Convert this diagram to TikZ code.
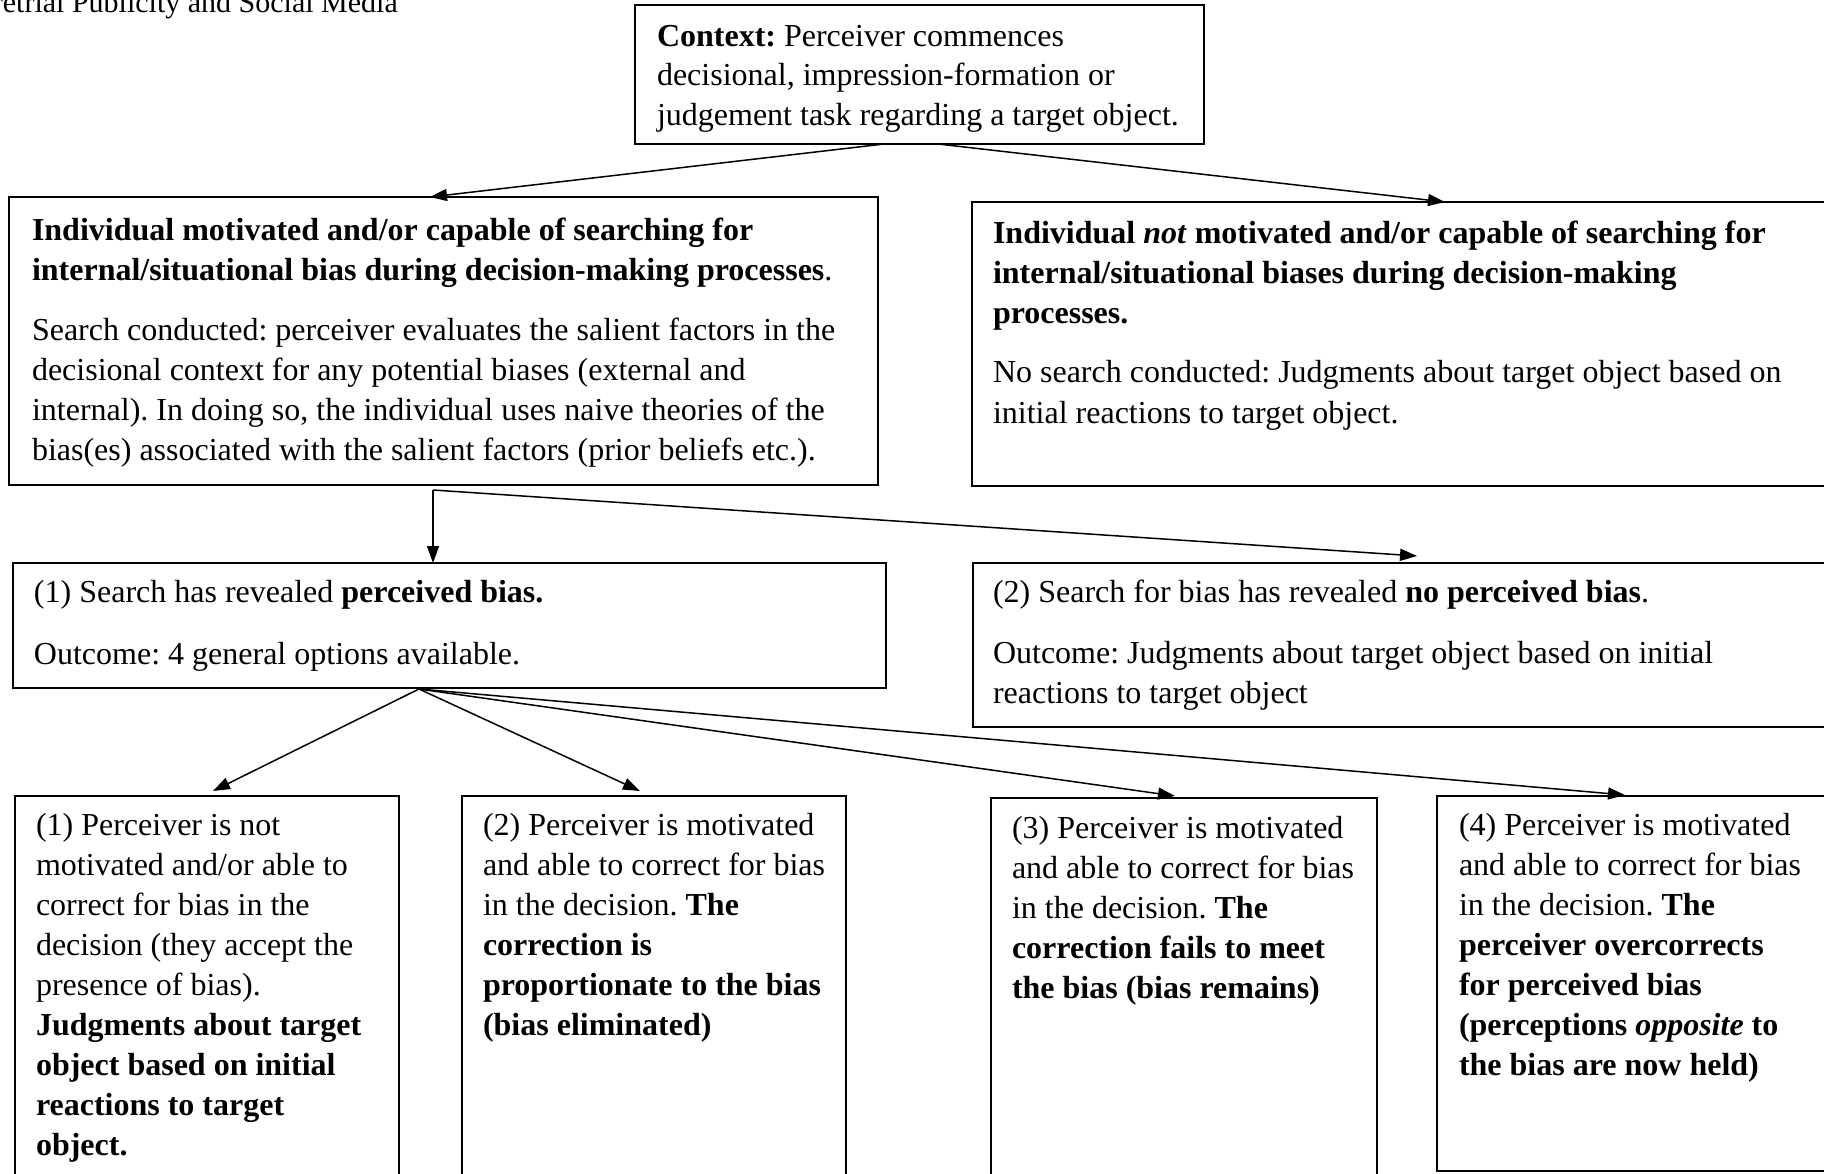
\documentclass[tikz,border=0pt]{standalone}
\usepackage{fontspec}
\setmainfont{Liberation Serif}
\frenchspacing
\usetikzlibrary{arrows.meta,calc}
\tikzset{
  box/.style={draw=black, line width=#1, rectangle, anchor=north west, inner sep=0pt, outer sep=0pt},
  txt/.style={anchor=north west, inner sep=0pt, outer sep=0pt, align=left, font=\fontsize{32}{40}\selectfont},
  ctxtxt/.style={anchor=north west, inner sep=0pt, outer sep=0pt, align=left, font=\fontsize{32}{39.5}\selectfont},
  arr/.style={line width=1.5pt, -{Triangle[length=17pt,width=12pt]}}
}
\begin{document}
\begin{tikzpicture}[x=1pt,y=-1pt]
\useasboundingbox (0,0) rectangle (1824,1174);
\clip (0,0) rectangle (1824,1174);
% header
\node[anchor=base east, inner sep=0pt, font=\fontsize{30}{36}\selectfont] (hdr) at (398,13) {retrial Publicity and Social Media};
% boxes
\node[box=2.6pt, minimum width=569pt, minimum height=139pt] (ctx) at (635,5) {};
\node[box=2.6pt, minimum width=869pt, minimum height=288pt] (A) at (9,197) {};
\node[box=2.6pt, minimum width=868pt, minimum height=284pt] (B) at (972,202) {};
\node[box=1.6pt, minimum width=873pt, minimum height=125pt] (C) at (13,563) {};
\node[box=1.6pt, minimum width=867pt, minimum height=164pt] (D) at (973,563) {};
\node[box=1.6pt, minimum width=384pt, minimum height=400pt] (E1) at (15,796) {};
\node[box=1.6pt, minimum width=384pt, minimum height=400pt] (E2) at (462,796) {};
\node[box=2.6pt, minimum width=386pt, minimum height=400pt] (E3) at (991,798) {};
\node[box=2.6pt, minimum width=403pt, minimum height=375pt] (E4) at (1437,796) {};
% texts
\node[ctxtxt] (ctxt) at (657,18.6) {\strut\textbf{Context:} Perceiver commences\\decisional, impression-formation or\\judgement task regarding a target object.};
\node[txt] (At) at (32,212) {\strut\textbf{Individual motivated and/or capable of searching for}\\\textbf{internal/situational bias during decision-making processes}.\\[20.5pt]Search conducted: perceiver evaluates the salient factors in the\\decisional context for any potential biases (external and\\internal). In doing so, the individual uses naive theories of the\\bias(es) associated with the salient factors (prior beliefs etc.).};
\node[txt] (Bt) at (993,215) {\strut\textbf{Individual \textit{not} motivated and/or capable of searching for}\\\textbf{internal/situational biases during decision-making}\\\textbf{processes.}\\[20pt]No search conducted: Judgments about target object based on\\initial reactions to target object.};
\node[txt] (Ct) at (34,574.5) {\strut(1) Search has revealed \textbf{perceived bias.}\\[21.5pt]Outcome: 4 general options available.};
\node[txt] (Dt) at (993,574.5) {\strut(2) Search for bias has revealed \textbf{no perceived bias}.\\[21pt]Outcome: Judgments about target object based on initial\\reactions to target object};
\node[txt] (E1t) at (36,807) {\strut(1) Perceiver is not\\motivated and/or able to\\correct for bias in the\\decision (they accept the\\presence of bias).\\\textbf{Judgments about target}\\\textbf{object based on initial}\\\textbf{reactions to target}\\\textbf{object.}};
\node[txt] (E2t) at (483,807) {\strut(2) Perceiver is motivated\\and able to correct for bias\\in the decision. \textbf{The}\\\textbf{correction is}\\\textbf{proportionate to the bias}\\\textbf{(bias eliminated)}};
\node[txt] (E3t) at (1012,810) {\strut(3) Perceiver is motivated\\and able to correct for bias\\in the decision. \textbf{The}\\\textbf{correction fails to meet}\\\textbf{the bias (bias remains)}};
\node[txt] (E4t) at (1459,807) {\strut(4) Perceiver is motivated\\and able to correct for bias\\in the decision. \textbf{The}\\\textbf{perceiver overcorrects}\\\textbf{for perceived bias}\\\textbf{(perceptions \textit{opposite} to}\\\textbf{the bias are now held)}};
% connectors
\draw[arr] ($(ctx.south west)+(249,0)$) -- ($(A.north west)+(421,0)$);
\draw[arr] ($(ctx.south west)+(303,0)$) -- ($(B.north west)+(473,0)$);
\draw[arr] ($(A.south west)+(424,5)$) -- ($(C.north west)+(420,0)$);
\draw[arr] ($(A.south west)+(424,5)$) -- ($(D.north west)+(444,-7)$);
\draw[arr] ($(C.south west)+(406,1)$) -- ($(E1.north west)+(198,-5)$);
\draw[arr] ($(C.south west)+(406,1)$) -- ($(E2.north west)+(178,-5)$);
\draw[arr] ($(C.south west)+(406,1)$) -- ($(E3.north west)+(184,-2)$);
\draw[arr] ($(C.south west)+(406,1)$) -- ($(E4.north west)+(188,-1)$);
\end{tikzpicture}
\end{document}
